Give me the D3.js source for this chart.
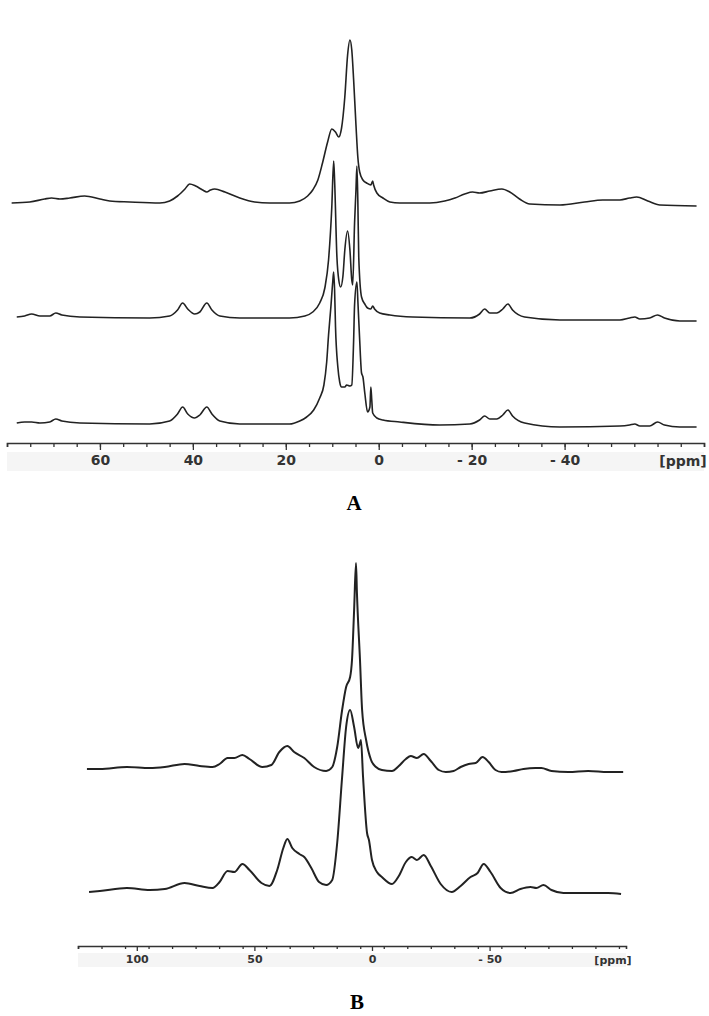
<!DOCTYPE html>
<html>
<head>
<meta charset="utf-8">
<script src="https://cdn.jsdelivr.net/npm/d3@7"></script>
<style>
  body { margin: 0; background: #fff; }
  .tick-label { font-family: "DejaVu Sans", sans-serif; font-weight: bold; fill: #333; }
  .panel-label { font-family: "Liberation Serif", serif; font-weight: bold; font-size: 21px; fill: #000; }
  .trace { fill: none; stroke: #222; stroke-linejoin: round; }
</style>
</head>
<body>
<svg id="chart" width="709" height="1016"></svg>
<script>
// spectra: [ppm, intensity (a.u.)]
const traceA1 = [[79.0,0],[75.1,1],[71.9,4],[70.4,5],[68.6,4],[66.5,5],[63.3,7],[60.0,4],[57.9,2],[53.6,1],[47.1,0],[45.0,2],[43.3,7],[41.7,14],[40.7,19],[39.4,17],[37.9,13],[37.0,11],[36.2,13],[35.3,14],[33.1,11],[29.9,5],[26.7,1],[23.5,0],[19.2,0],[17.0,2],[15.3,7],[14.2,13],[13.1,23],[12.1,40],[11.0,61],[10.1,74],[9.3,71],[8.6,66],[8.0,75],[7.3,106],[6.7,148],[6.2,163],[5.8,153],[5.4,123],[4.9,78],[4.5,46],[4.1,31],[3.4,23],[2.6,20],[1.7,18],[1.3,22],[1.1,18],[0.4,10],[-0.9,5],[-2.4,1],[-4.5,0],[-11.0,0],[-14.2,2],[-16.4,5],[-18.5,9],[-20.2,11],[-21.7,10],[-23.9,12],[-26.5,14],[-28.2,11],[-30.3,4],[-32.5,-1],[-39.0,-2],[-44.3,1],[-48.2,3],[-51.9,3],[-54.0,5],[-55.5,6],[-57.9,2],[-60.5,-2],[-68.4,-3]];
const traceA2 = [[77.9,0],[76.2,1],[74.7,3],[72.9,1],[70.8,1],[69.5,4],[68.2,2],[64.3,0],[49.3,-1],[45.0,1],[43.3,7],[42.2,14],[41.1,8],[39.6,3],[38.5,5],[37.0,14],[35.9,7],[34.2,1],[29.9,-1],[19.2,-1],[15.9,1],[14.2,5],[12.7,14],[11.6,29],[10.8,57],[10.1,110],[9.7,156],[9.5,137],[9.0,60],[8.6,37],[8.2,30],[7.7,41],[7.3,67],[6.7,86],[6.2,67],[5.8,37],[5.6,32],[5.2,94],[4.9,127],[4.7,151],[4.5,117],[4.3,60],[3.7,20],[3.0,13],[2.4,9],[1.7,8],[1.3,11],[0.9,8],[-0.2,4],[-2.4,2],[-7.3,0],[-19.6,-1],[-21.7,3],[-22.8,8],[-23.9,4],[-25.4,4],[-26.7,8],[-27.8,13],[-28.8,7],[-31.4,0],[-39.0,-3],[-51.9,-3],[-54.0,-1],[-55.1,0],[-56.2,-2],[-58.3,-1],[-60.0,2],[-61.5,-1],[-64.8,-4],[-68.4,-4]];
const traceA3 = [[77.9,0],[76.2,1],[74.7,1],[72.9,0],[70.8,1],[69.5,4],[68.2,2],[64.3,0],[49.3,-1],[45.0,2],[43.3,9],[42.2,16],[41.1,9],[39.6,5],[38.5,8],[37.0,16],[35.9,9],[34.2,2],[29.9,-1],[19.2,-1],[17.0,2],[15.5,6],[14.0,13],[12.7,25],[11.8,38],[11.2,61],[10.8,88],[10.3,116],[9.9,141],[9.7,151],[9.5,133],[9.3,96],[8.8,56],[8.4,41],[8.0,36],[7.3,36],[6.9,38],[6.2,37],[5.8,38],[5.4,83],[5.2,118],[4.7,141],[4.5,123],[4.1,83],[3.7,50],[3.4,46],[3.0,30],[2.4,11],[1.9,16],[1.7,36],[1.5,23],[1.3,10],[0.4,5],[-0.9,3],[-4.5,1],[-13.1,-2],[-19.6,-1],[-21.7,3],[-22.8,7],[-23.9,4],[-25.4,4],[-26.7,8],[-27.8,13],[-28.8,7],[-31.4,0],[-39.0,-4],[-51.9,-3],[-54.0,-2],[-55.1,-1],[-56.2,-3],[-58.3,-3],[-60.0,1],[-61.5,-2],[-64.8,-4],[-68.4,-4]];
const traceB1 = [[121.2,0],[115.7,0],[104.2,2],[94.5,1],[88.1,2],[79.7,5],[73.3,3],[67.8,2],[64.8,5],[61.4,11],[58.5,11],[55.1,14],[52.1,10],[46.6,2],[42.8,4],[39.4,17],[36.0,23],[33.1,17],[28.8,11],[24.6,2],[19.5,-2],[16.9,2],[14.8,22],[12.7,59],[11.0,82],[9.3,92],[8.5,109],[7.6,159],[6.8,206],[6.4,176],[5.1,109],[4.2,59],[2.5,29],[0.4,9],[-1.7,2],[-4.2,-1],[-8.5,-2],[-11.4,3],[-14.4,10],[-16.5,13],[-19.1,11],[-22.0,15],[-25.0,8],[-28.4,-1],[-31.4,-3],[-34.7,-2],[-37.7,2],[-41.1,5],[-44.1,6],[-47.0,12],[-49.6,7],[-52.5,-1],[-55.1,-3],[-60.2,-2],[-64.4,0],[-69.5,1],[-72.0,1],[-76.3,-2],[-83.5,-3],[-91.9,-2],[-100.4,-3],[-106.8,-3]];
const traceB2 = [[120.3,0],[115.7,1],[104.2,4],[94.5,2],[88.1,3],[79.7,9],[73.3,6],[67.8,4],[64.8,10],[61.4,21],[58.5,20],[55.1,28],[52.1,22],[47.0,9],[43.6,6],[40.3,22],[37.7,44],[36.0,53],[33.9,44],[30.9,38],[28.8,35],[25.8,24],[22.5,10],[19.5,7],[16.9,12],[14.8,49],[12.7,115],[11.0,165],[9.3,182],[7.6,165],[5.9,144],[5.1,149],[4.7,152],[3.8,115],[2.1,59],[1.3,52],[0.0,32],[-2.1,20],[-4.2,15],[-8.5,8],[-11.4,16],[-14.4,30],[-16.9,35],[-19.1,32],[-22.0,37],[-25.0,26],[-29.2,8],[-33.9,0],[-37.7,6],[-41.9,15],[-44.9,19],[-47.5,28],[-50.4,20],[-54.7,4],[-58.9,-1],[-63.1,3],[-67.4,5],[-69.9,4],[-72.9,7],[-76.3,2],[-81.4,-1],[-91.9,-1],[-100.4,-1],[-105.9,-2]];

// vertical stacking of the traces
const offsetsA = [227, 113, 7];
const offsetsB = [131, 8];

const labelsA = [60, 40, 20, 0, -20, -40];
const labelsB = [100, 50, 0, -50];

const svg = d3.select('#chart');
const fmt = d => d < 0 ? '- ' + Math.abs(d) : '' + d;

function drawPanel(opt) {
	const x = d3.scaleLinear().domain(opt.domain).range(opt.xRange);
	const y = d3.scaleLinear().domain([0, 400]).range(opt.yRange);

	const g = svg.append('g');

	opt.traces.forEach((tr, i) => {
		const line = d3.line()
			.x(d => x(d[0]))
			.y(d => y(d[1] + opt.offsets[i]))
			.curve(d3.curveMonotoneX);
		g.append('path')
			.datum(tr)
			.attr('class', 'trace')
			.attr('stroke-width', opt.stroke)
			.attr('d', line);
	});

	// label band behind the numbers
	g.append('rect')
		.attr('x', opt.xRange[0])
		.attr('y', opt.axisY + opt.bandTop)
		.attr('width', opt.xRange[1] - opt.xRange[0])
		.attr('height', opt.bandH)
		.attr('fill', '#f5f5f5');

	const minor = d3.range(opt.domain[0], opt.domain[1] - 0.01, -opt.minorStep);
	const axis = d3.axisBottom(x)
		.tickValues(minor)
		.tickSize(opt.minorLen)
		.tickFormat('');
	const axG = g.append('g')
		.attr('transform', 'translate(0,' + opt.axisY + ')')
		.call(axis);
	axG.select('.domain').attr('stroke', '#333').attr('stroke-width', 1.6);
	axG.selectAll('.tick line').attr('stroke', '#333').attr('stroke-width', 1.3);

	const major = d3.axisBottom(x)
		.tickValues(opt.labels)
		.tickSize(opt.majorLen)
		.tickPadding(opt.pad)
		.tickFormat(fmt);
	const mjG = g.append('g')
		.attr('transform', 'translate(0,' + opt.axisY + ')')
		.call(major);
	mjG.select('.domain').remove();
	mjG.selectAll('.tick line').attr('stroke', '#333').attr('stroke-width', 1.3);
	mjG.selectAll('.tick text')
		.attr('class', 'tick-label')
		.style('font-size', opt.fontSize + 'px');

	g.append('text')
		.attr('class', 'tick-label')
		.attr('x', opt.ppmX)
		.attr('y', opt.axisY + opt.majorLen + opt.pad + opt.fontSize * 0.8)
		.attr('text-anchor', 'middle')
		.style('font-size', opt.fontSize + 'px')
		.text('[ppm]');

	g.append('text')
		.attr('class', 'panel-label')
		.attr('x', opt.letterX)
		.attr('y', opt.letterY)
		.attr('text-anchor', 'middle')
		.text(opt.letter);
}

drawPanel({
	domain: [80, -70], xRange: [7, 704], yRange: [430, 30],
	traces: [traceA1, traceA2, traceA3], offsets: offsetsA, stroke: 1.6,
	axisY: 443, minorStep: 5, minorLen: 4, majorLen: 7, pad: 5, fontSize: 14,
	bandTop: 9, bandH: 19, labels: labelsA, ppmX: 683,
	letter: 'A', letterX: 354, letterY: 510
});

drawPanel({
	domain: [125, -108], xRange: [78, 626], yRange: [900, 500],
	traces: [traceB1, traceB2], offsets: offsetsB, stroke: 2,
	axisY: 946, minorStep: 10, minorLen: 3, majorLen: 5, pad: 4, fontSize: 11,
	bandTop: 7, bandH: 14, labels: labelsB, ppmX: 613,
	letter: 'B', letterX: 357, letterY: 1009
});
</script>
</body>
</html>
